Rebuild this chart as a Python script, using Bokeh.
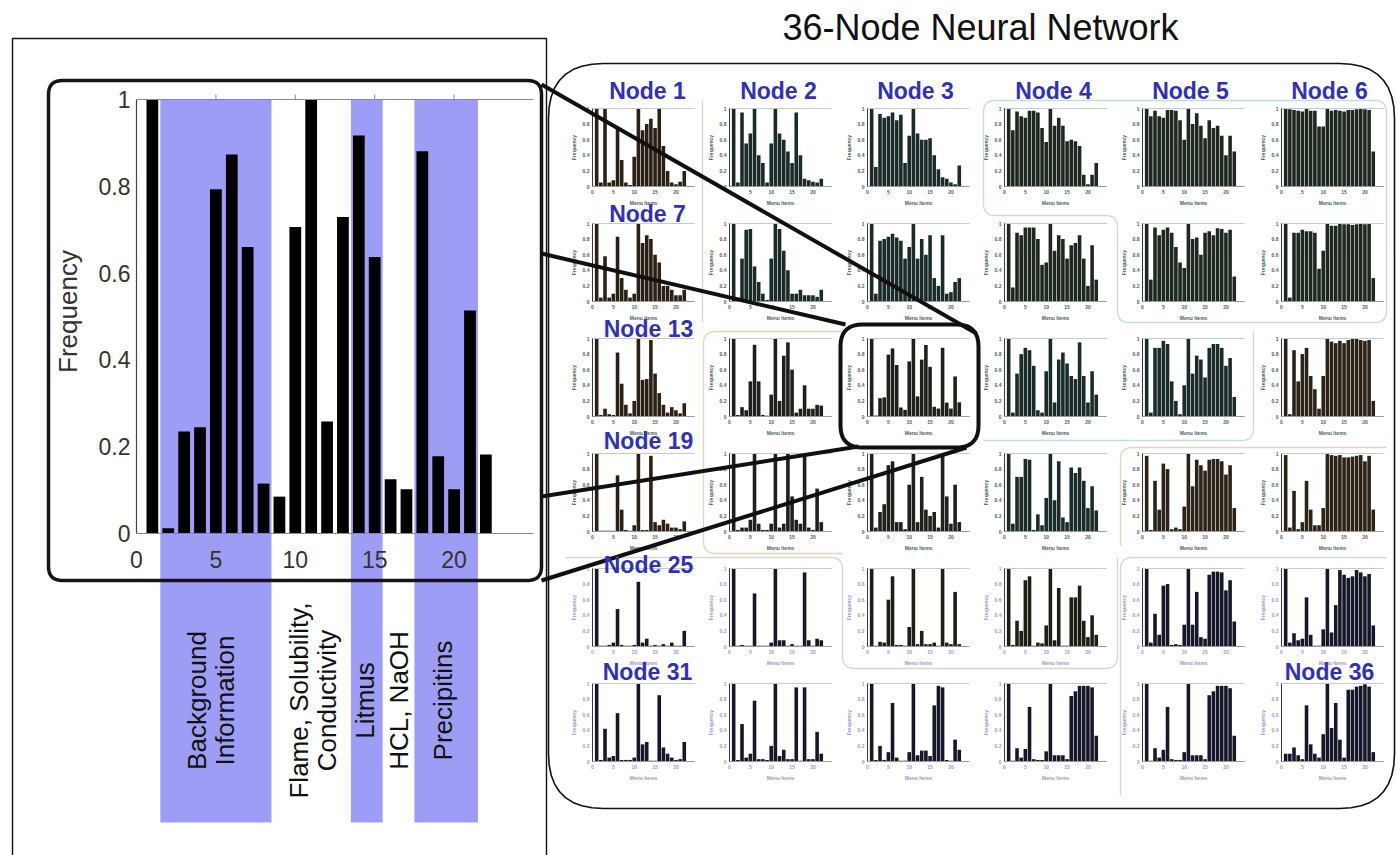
import numpy as np
from bokeh.plotting import figure
from bokeh.models import Range1d
from bokeh.core.properties import value
from bokeh.embed import file_html
from bokeh.resources import INLINE

# ---------------- data ----------------
items = list(range(1, 23))
main_freq = [1.0, 0.012, 0.235, 0.245, 0.793, 0.873, 0.66, 0.115, 0.085, 0.706, 1.0,
             0.258, 0.729, 0.917, 0.637, 0.125, 0.102, 0.881, 0.178, 0.102, 0.514, 0.182]
y_ticks = [0, 0.2, 0.4, 0.6, 0.8, 1]
y_tick_labels = ["0", "0.2", "0.4", "0.6", "0.8", "1"]
x_ticks = [0, 5, 10, 15, 20]
x_tick_labels = ["0", "5", "10", "15", "20"]
band_start = [1.5, 13.5, 17.5]
band_end = [8.5, 15.5, 21.5]
group_labels = ["Background\nInformation", "Flame, Solubility,\nConductivity",
                "Litmus", "HCL, NaOH", "Precipitins"]
group_label_x = [4.7, 11.1, 14.4, 16.5, 19.3]

node1 = [1.0, 0.05, 1.0, 0.05, 0.08, 0.75, 0.34, 0.05, 0.02, 0.38, 1.0, 0.72, 0.8, 0.87, 0.75, 1.0, 0.52, 0.2, 0.05, 0.03, 0.06, 0.2]
node2 = [1.0, 0.05, 0.95, 0.55, 0.68, 1.0, 0.4, 0.3, 0.05, 0.55, 1.0, 0.68, 0.6, 0.45, 0.3, 0.95, 0.4, 0.1, 0.08, 0.06, 0.05, 0.1]
node3 = [1.0, 0.25, 0.93, 0.88, 0.9, 0.95, 0.85, 0.92, 0.3, 0.65, 1.0, 0.68, 0.6, 0.6, 0.62, 0.4, 0.22, 0.12, 0.1, 0.05, 0.03, 0.27]
node4 = [1.0, 0.72, 0.96, 0.9, 0.88, 0.97, 0.97, 0.95, 0.75, 0.57, 1.0, 0.78, 0.88, 0.78, 0.58, 0.6, 0.58, 0.52, 0.15, 0.03, 0.15, 0.3]
node5 = [1.0, 0.9, 0.97, 0.9, 0.88, 0.98, 0.98, 0.97, 0.85, 0.6, 1.0, 0.8, 0.94, 0.78, 0.62, 0.85, 0.75, 0.78, 0.65, 0.4, 0.65, 0.45]
node6 = [1.0, 0.99, 0.98, 0.97, 0.96, 1.0, 0.97, 0.97, 0.77, 0.77, 1.0, 0.97, 0.98, 0.97, 0.96, 0.98, 0.98, 0.99, 1.0, 0.99, 0.98, 0.45]
node7 = [1.0, 0.05, 0.58, 0.05, 0.1, 0.83, 0.3, 0.15, 0.05, 0.1, 1.0, 0.75, 0.85, 0.8, 0.6, 0.5, 0.2, 0.2, 0.15, 0.08, 0.08, 0.15]
node8 = [1.0, 0.05, 0.55, 0.92, 0.93, 0.45, 0.25, 0.1, 0.02, 0.55, 1.0, 0.93, 0.65, 0.4, 0.1, 0.1, 0.15, 0.08, 0.08, 0.08, 0.06, 0.15]
node9 = [1.0, 0.1, 0.78, 0.8, 0.83, 0.87, 0.82, 0.78, 0.55, 0.7, 1.0, 0.55, 0.8, 0.6, 0.85, 0.3, 0.2, 0.85, 0.1, 0.12, 0.25, 0.3]
node10 = [1.0, 0.18, 0.88, 0.85, 0.95, 0.95, 0.95, 0.8, 0.47, 0.5, 1.0, 0.65, 0.85, 0.8, 0.55, 0.72, 0.75, 0.85, 0.55, 0.2, 0.72, 0.28]
node11 = [1.0, 0.28, 0.95, 0.85, 0.92, 0.95, 0.88, 0.7, 0.5, 0.43, 1.0, 0.8, 0.82, 0.6, 0.88, 0.9, 0.85, 0.94, 0.93, 0.88, 0.92, 0.32]
node12 = [1.0, 0.05, 0.88, 0.88, 0.92, 0.9, 0.9, 0.88, 0.42, 0.65, 1.0, 0.97, 0.97, 1.0, 0.99, 0.99, 0.98, 0.99, 1.0, 0.99, 1.0, 0.3]
node13 = [1.0, 0.02, 0.1, 0.03, 0.02, 0.82, 0.42, 0.15, 0.04, 0.2, 1.0, 0.47, 0.48, 0.98, 0.55, 0.3, 0.15, 0.05, 0.12, 0.08, 0.04, 0.17]
node14 = [1.0, 0.02, 0.12, 0.08, 0.45, 0.92, 0.45, 0.02, 0.01, 0.28, 1.0, 0.2, 0.78, 0.95, 0.6, 0.05, 0.1, 0.4, 0.1, 0.1, 0.15, 0.14]
node15 = main_freq
node16 = [1.0, 0.05, 0.55, 0.8, 0.88, 0.85, 0.65, 0.08, 0.05, 0.58, 1.0, 0.18, 0.73, 0.82, 0.68, 0.52, 0.48, 0.95, 0.52, 0.18, 0.58, 0.28]
node17 = [1.0, 0.05, 0.88, 0.88, 0.97, 0.93, 0.45, 0.2, 0.03, 0.4, 1.0, 0.55, 0.78, 0.73, 0.5, 0.88, 0.93, 0.93, 0.88, 0.65, 0.75, 0.25]
node18 = [1.0, 0.03, 0.85, 0.45, 0.8, 0.88, 0.52, 0.35, 0.1, 0.52, 1.0, 0.96, 0.94, 0.97, 0.94, 0.98, 1.0, 1.0, 0.98, 0.97, 0.98, 0.2]
node19 = [1.0, 0.01, 0.01, 0.01, 0.01, 0.72, 0.28, 0.02, 0.01, 0.08, 1.0, 0.02, 0.02, 0.97, 0.12, 0.08, 0.15, 0.1, 0.05, 0.05, 0.03, 0.13]
node20 = [1.0, 0.02, 0.05, 0.05, 0.15, 1.0, 0.1, 0.02, 0.02, 0.1, 1.0, 0.05, 0.1, 1.0, 0.45, 0.15, 0.1, 1.0, 0.05, 0.02, 0.55, 0.12]
node21 = [1.0, 0.05, 0.25, 0.35, 0.85, 0.9, 0.12, 0.12, 0.03, 0.6, 1.0, 0.12, 0.7, 0.28, 0.2, 0.25, 0.05, 1.0, 0.45, 0.1, 0.6, 0.12]
node22 = [1.0, 0.1, 0.7, 0.7, 0.93, 0.92, 0.02, 0.22, 0.08, 0.43, 1.0, 0.4, 0.9, 0.18, 0.12, 0.82, 0.75, 0.82, 0.65, 0.3, 0.58, 0.27]
node23 = [0.97, 0.02, 0.65, 0.28, 0.87, 0.8, 0.03, 0.05, 0.03, 0.32, 1.0, 0.58, 0.92, 0.85, 0.78, 0.92, 0.93, 0.93, 0.9, 0.73, 0.85, 0.3]
node24 = [0.98, 0.05, 0.52, 0.03, 0.12, 0.65, 0.28, 0.08, 0.08, 0.3, 1.0, 0.98, 0.97, 0.98, 0.95, 0.95, 0.96, 0.97, 0.98, 0.9, 0.97, 0.28]
node25 = [1.0, 0.01, 0.01, 0.02, 0.05, 0.48, 0.02, 0.01, 0.01, 0.02, 0.83, 0.05, 0.1, 0.01, 0.02, 0.01, 0.03, 0.01, 0.05, 0.01, 0.01, 0.2]
node26 = [1.0, 0.01, 0.02, 0.01, 0.01, 0.68, 0.01, 0.01, 0.01, 0.05, 1.0, 0.08, 0.08, 0.01, 0.03, 0.01, 0.01, 0.95, 0.08, 0.01, 0.1, 0.08]
node27 = [1.0, 0.01, 0.06, 0.05, 0.6, 0.9, 0.02, 0.02, 0.01, 0.25, 1.0, 0.03, 0.2, 0.03, 0.03, 0.05, 0.01, 1.0, 0.05, 0.03, 0.7, 0.03]
node28 = [1.0, 0.02, 0.33, 0.2, 0.85, 0.9, 0.01, 0.05, 0.04, 0.27, 1.0, 0.08, 0.75, 0.01, 0.01, 0.63, 0.63, 0.78, 0.33, 0.12, 0.4, 0.15]
node29 = [1.0, 0.05, 0.42, 0.15, 0.78, 0.8, 0.02, 0.03, 0.02, 0.28, 1.0, 0.28, 0.7, 0.12, 0.1, 0.92, 0.96, 0.96, 0.95, 0.72, 0.85, 0.32]
node30 = [1.0, 0.05, 0.17, 0.08, 0.1, 0.63, 0.15, 0.01, 0.01, 0.22, 1.0, 0.18, 0.53, 0.98, 0.92, 0.88, 0.9, 0.98, 0.95, 0.9, 0.93, 0.27]
node31 = [1.0, 0.02, 0.42, 0.05, 0.07, 0.62, 0.02, 0.02, 0.02, 0.05, 1.0, 0.22, 0.25, 0.01, 0.01, 0.85, 0.18, 0.1, 0.05, 0.02, 0.03, 0.25]
node32 = [1.0, 0.02, 0.48, 0.05, 0.1, 0.78, 0.03, 0.03, 0.02, 0.2, 1.0, 0.07, 0.15, 0.03, 0.03, 0.95, 0.01, 0.95, 0.03, 0.03, 0.38, 0.1]
node33 = [1.0, 0.02, 0.2, 0.02, 0.12, 0.75, 0.05, 0.01, 0.01, 0.12, 1.0, 0.08, 0.14, 0.14, 0.07, 0.72, 0.97, 0.95, 0.02, 0.01, 0.28, 0.15]
node34 = [1.0, 0.01, 0.17, 0.05, 0.16, 0.7, 0.03, 0.02, 0.02, 0.13, 1.0, 0.08, 0.08, 0.08, 0.03, 0.84, 0.9, 0.97, 0.97, 0.97, 0.95, 0.33]
node35 = [1.0, 0.01, 0.17, 0.05, 0.15, 0.7, 0.03, 0.02, 0.02, 0.12, 1.0, 0.08, 0.08, 0.08, 0.03, 0.85, 0.9, 0.97, 0.97, 0.97, 0.94, 0.33]
node36 = [0.1, 0.1, 0.18, 0.08, 0.03, 0.72, 0.22, 0.1, 0.05, 0.35, 1.0, 0.43, 0.75, 0.28, 0.05, 0.92, 0.92, 0.96, 0.97, 0.99, 0.96, 0.12]

nodes = [node1, node2, node3, node4, node5, node6, node7, node8, node9, node10, node11, node12,
         node13, node14, node15, node16, node17, node18, node19, node20, node21, node22, node23, node24,
         node25, node26, node27, node28, node29, node30, node31, node32, node33, node34, node35, node36]
labelled_nodes = [1, 2, 3, 4, 5, 6, 7, 13, 19, 25, 31, 36]
small_y_ticks = ["0", "0.2", "0.4", "0.6", "0.8", "1"]

# ---------------- styles ----------------
BR, TE, GR, GY, NV, OL, BN = "#2b2016", "#1b2b29", "#1f2820", "#211f1c", "#17172a", "#1f1e14", "#2b2218"
node_colors = [BR, TE, TE, GR, GR, GR,
               BR, TE, TE, GR, GR, GR,
               BR, GY, GY, TE, TE, BN,
               BR, GY, GY, TE, BN, BN,
               NV, NV, OL, OL, NV, NV,
               NV, NV, NV, NV, NV, NV]
BAND = "#9d9df5"
NODE_BLUE = "#3232b0"
F = value("Liberation Sans")

# The page template puts the figure at the top-left corner of the window.
W, H = 1397, 855
FXL, FXR = 0, W
FYT, FYB = 0, H

p = figure(width=W, height=H, x_range=Range1d(FXL, FXR), y_range=Range1d(FYB, FYT),
           x_axis_type=None, y_axis_type=None, toolbar_location=None,
           output_backend="svg", min_border=0)
p.outline_line_color = None
p.background_fill_color = "white"
p.border_fill_color = "white"

xr, yr = {}, {}


def place(name, dx0, dx1, px0, px1, dy0, dy1, py0, py1):
    """map data window [dx0,dx1]x[dy0,dy1] onto a page box via an extra range pair"""
    sx = (dx1 - dx0) / (px1 - px0)
    xr[name] = Range1d(dx0 + (FXL - px0) * sx, dx0 + (FXR - px0) * sx)
    sy = (dy1 - dy0) / (py1 - py0)
    yr[name] = Range1d(dy0 + (FYB - py0) * sy, dy0 + (FYT - py0) * sy)


def rounded(pts, r, closed=True, n=10):
    xs, ys = [], []
    m = len(pts)
    for i in range(m):
        c = np.array(pts[i], float)
        if not closed and (i == 0 or i == m - 1):
            xs.append(c[0]); ys.append(c[1]); continue
        a0 = np.array(pts[i - 1], float); b0 = np.array(pts[(i + 1) % m], float)
        da, db = a0 - c, b0 - c
        la, lb = np.hypot(*da), np.hypot(*db)
        rr = min(r, la / 2, lb / 2)
        a = c + da / la * rr; b = c + db / lb * rr
        for t in np.linspace(0, 1, n):
            q = (1 - t) ** 2 * a + 2 * (1 - t) * t * c + t ** 2 * b
            xs.append(q[0]); ys.append(q[1])
    if closed:
        xs.append(xs[0]); ys.append(ys[0])
    return xs, ys


# ---------- faint cluster boundaries ----------
TEAL_L, TAN_L, GRAY_L = "#c6dcd9", "#e3d5bb", "#d5d5d5"
faint = [
    ([(702, 100), (702, 322)], TAN_L, False),
    ([(842, 331), (703, 331), (703, 553), (842, 553)], TAN_L, False),
    ([(983, 100), (1386, 100), (1386, 322), (1117, 322), (1117, 215), (983, 215)], TEAL_L, True),
    ([(983, 440), (1253, 440), (1253, 330)], TEAL_L, False),
    ([(1120, 545), (1120, 447), (1386, 447)], TAN_L, False),
    ([(565, 557), (842, 557), (842, 668), (1117, 668), (1117, 557)], GRAY_L, False),
    ([(1120, 795), (1120, 557), (1386, 557)], GRAY_L, False),
]
for pts, col, cl in faint:
    fx, fy = rounded(pts, 12, closed=cl)
    p.line(fx, fy, line_color=col, line_width=1.3)

# ---------- big rounded panel ----------
bx, by = rounded([(548, 63), (1394, 63), (1394, 808), (548, 808)], 55)
p.line(bx, by, line_color="#111111", line_width=1.6)

# ---------- small node panels ----------
COL_X0 = [592, 729, 867, 1004, 1142, 1281]
ROW_TOP = [108, 223, 338, 453, 568, 683]
PW, PH, XMAX = 102.2, 78, 24.5
ax_xs, ax_ys, ax_cols = [], [], []
yt_x, yt_y, yt_t, yt_c = [], [], [], []
xt_x, xt_y, xt_t, xt_c = [], [], [], []
lab_x, lab_y, lab_c, ylab_x, ylab_y = [], [], [], [], []
for k, vals in enumerate(nodes):
    r, c = divmod(k, 6)
    x0, top = COL_X0[c], ROW_TOP[r]
    bot = top + PH
    name = f"n{k + 1}"
    place(name, 0, XMAX, x0, x0 + PW, 0, 1, bot, top)
    p.vbar(x=items, top=vals, bottom=0, width=0.86, fill_color=node_colors[k],
           line_color=None, x_range_name=name, y_range_name=name)
    tcol = "#9b9bd0" if r >= 4 else "#4d5f5f"
    ax_xs += [[x0, x0 + PW], [x0, x0 + PW], [x0, x0]]
    ax_ys += [[top, top], [bot, bot], [top, bot]]
    ax_cols += ["#c4cccc", "#9a9a9a", "#3a3a3a"]
    for i, t in enumerate(small_y_ticks):
        yt_x.append(x0 - 3); yt_y.append(bot - i * 0.2 * PH); yt_t.append(t); yt_c.append(tcol)
    for v, t in zip(x_ticks, x_tick_labels):
        xt_x.append(x0 + v * PW / XMAX); xt_y.append(bot + 5); xt_t.append(t); xt_c.append(tcol)
    lab_x.append(x0 + PW / 2); lab_y.append(bot + 16); lab_c.append(tcol)
    ylab_x.append(x0 - 19); ylab_y.append(top + PH / 2)

p.multi_line(ax_xs, ax_ys, line_color=ax_cols, line_width=1)
p.text(yt_x, yt_y, text=yt_t, text_color=yt_c, text_font=F, text_font_size=value("5px"),
       text_align="right", text_baseline="middle", text_font_style="bold")
p.text(xt_x, xt_y, text=xt_t, text_color=xt_c, text_font=F, text_font_size=value("5px"),
       text_align="center", text_baseline="middle", text_font_style="bold")
p.text(lab_x, lab_y, text=["Menu Items"] * 36, text_color=lab_c, text_font=F,
       text_font_size=value("5px"), text_align="center", text_baseline="middle", text_font_style="bold")
p.text(ylab_x, ylab_y, text=["Frequency"] * 36, text_color=lab_c, text_font=F,
       text_font_size=value("5px"), text_align="center", text_baseline="middle",
       text_font_style="bold", angle=np.pi / 2)

# ---------- left outer thin box ----------
p.line([12, 12, 546, 546], [870, 38, 38, 870], line_color="#111111", line_width=1.4)

# ---------- main chart ----------
MX0, MX1, MY0, MY1 = 136, 533, 533, 99
place("m", 0, 25, MX0, MX1, 0, 1, MY0, MY1)
p.quad(left=band_start, right=band_end, top=MY1, bottom=822, fill_color=BAND,
       line_color=None, x_range_name="m")
p.vbar(x=items, top=main_freq, bottom=0, width=0.74, fill_color="black", line_color=None,
       x_range_name="m", y_range_name="m")
p.multi_line([[0, 0], [0, 25], [0, 25]], [[0, 1], [0, 0], [1, 1]],
             line_color=["#444444", "#8a8a8a", "#8a8a8a"], line_width=1.2,
             x_range_name="m", y_range_name="m")
p.segment(x0=x_ticks[1:], y0=[MY1] * 4, x1=x_ticks[1:], y1=[MY1 - 5] * 4,
          line_color="#8a8a8a", line_width=1, x_range_name="m")
p.text([130] * 6, y_ticks, text=y_tick_labels, text_font=F, text_font_size=value("23px"),
       text_color="#333333", text_align="right", text_baseline="middle", y_range_name="m")
p.text(x_ticks, [559] * 5, text=x_tick_labels, text_font=F, text_font_size=value("23px"),
       text_color="#333333", text_align="center", text_baseline="middle", x_range_name="m")
p.text([67], [311], text=["Frequency"], text_font=F, text_font_size=value("26px"),
       text_color="#333333", text_align="center", text_baseline="middle", angle=np.pi / 2)
p.text(group_label_x, [700] * 5, text=group_labels, text_font=F, text_font_size=value("26px"),
       text_color="#111111", text_align="center", text_baseline="middle", angle=np.pi / 2,
       text_line_height=0.95, x_range_name="m")

# ---------- boxes and callout lines ----------
mx, my = rounded([(48, 80), (541, 80), (541, 580), (48, 580)], 14)
p.line(mx, my, line_color="#151515", line_width=3.5)
hx, hy = rounded([(840, 324), (978, 324), (978, 447), (840, 447)], 22)
p.line(hx, hy, line_color="#111111", line_width=4)
p.segment(x0=[541, 541, 541, 541], y0=[84, 253, 496, 580],
          x1=[976, 845, 858, 966], y1=[333, 324, 446, 447],
          line_color="#111111", line_width=4)

# ---------- node names and title ----------
NODE_POS = {1: (647, 90), 2: (778, 90), 3: (915, 90), 4: (1053, 90), 5: (1190, 90), 6: (1329, 90),
            7: (647, 213), 13: (648, 328), 19: (648, 440), 25: (648, 564), 31: (647, 671),
            36: (1329, 671)}
p.text([NODE_POS[n][0] for n in labelled_nodes], [NODE_POS[n][1] for n in labelled_nodes],
       text=[f"Node {n}" for n in labelled_nodes], text_font=F, text_font_size=value("23px"),
       text_font_style="bold", text_color=NODE_BLUE, text_align="center", text_baseline="middle")
p.text([980], [27], text=["36-Node Neural Network"], text_font=F, text_font_size=value("36px"),
       text_color="#111111", text_align="center", text_baseline="middle")

p.extra_x_ranges = xr
p.extra_y_ranges = yr

open("out.html", "w").write(file_html(p, INLINE))
